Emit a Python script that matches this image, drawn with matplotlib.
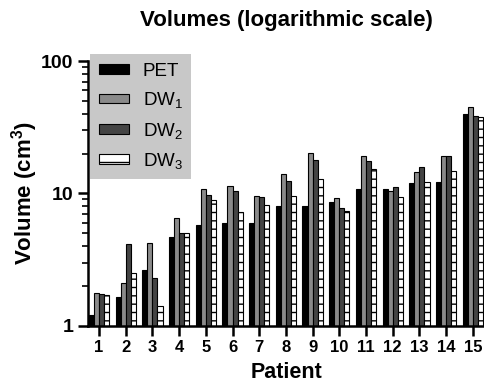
import matplotlib.pyplot as plt
import numpy as np

# data
patients = np.arange(1, 16)
pet = [1.21, 1.66, 2.64, 4.64, 5.75, 5.96, 5.96, 7.96, 8.07, 8.6, 10.8, 10.8, 12.0, 12.1, 39.5]
dw1 = [1.76, 2.09, 4.25, 6.5, 10.7, 11.4, 9.5, 13.9, 20.2, 9.2, 19.1, 10.5, 14.5, 19.0, 44.6]
dw2 = [1.73, 4.16, 2.31, 5.04, 9.8, 10.4, 9.4, 12.3, 17.9, 7.8, 17.5, 11.2, 15.7, 19.0, 38.3]
dw3 = [1.70, 2.52, 1.40, 5.0, 8.96, 7.22, 8.2, 9.55, 12.8, 7.3, 15.4, 9.4, 12.1, 14.8, 37.9]

plt.rcParams["font.family"] = ["Liberation Sans", "DejaVu Sans"]
plt.rcParams["font.weight"] = "bold"
plt.rcParams["mathtext.default"] = "regular"
plt.rcParams["hatch.linewidth"] = 1.0

fig = plt.figure(figsize=(4.84, 3.84), dpi=100)
ax = fig.add_axes([0.182, 0.152, 0.818, 0.689])

w = 0.19
ax.bar(patients - 1.5 * w, pet, w, color="black", edgecolor="black", linewidth=0.8, label="PET")
ax.bar(patients - 0.5 * w, dw1, w, color="#8a8a8a", edgecolor="black", linewidth=0.8, label="DW$_1$")
ax.bar(patients + 0.5 * w, dw2, w, color="#444444", edgecolor="black", linewidth=0.8, label="DW$_2$")
ax.bar(patients + 1.5 * w, dw3, w, color="white", edgecolor="black", linewidth=0.8, hatch="--", label="DW$_3$")

ax.set_yscale("log")
ax.set_ylim(1, 100)
ax.set_xlim(0.59, 15.42)
ax.set_xticks(patients)
ax.set_yticks([1, 10, 100])
ax.set_yticklabels(["1", "10", "100"])

for s in ["top", "right"]:
    ax.spines[s].set_visible(False)
for s in ["left", "bottom"]:
    ax.spines[s].set_linewidth(1.8)

ax.tick_params(axis="both", which="major", length=7, width=1.8)
ax.tick_params(axis="x", labelsize=12)
ax.tick_params(axis="y", labelsize=14)
ax.tick_params(axis="y", which="minor", length=4, width=1.2)

ax.set_title("Volumes (logarithmic scale)", fontsize=16, fontweight="bold", pad=25)
ax.set_xlabel("Patient", fontsize=15.5, fontweight="bold", labelpad=5)
ax.set_ylabel("Volume (cm$^3$)", fontsize=16, fontweight="bold", labelpad=1)

leg = ax.legend(loc="upper left", bbox_to_anchor=(0.005, 1.025), frameon=True, fancybox=False,
                facecolor="#c8c8c8", edgecolor="none", framealpha=1, fontsize=13.5,
                handlelength=1.65, handleheight=0.4, handletextpad=0.7, labelspacing=0.55,
                borderpad=0.45, borderaxespad=0)
for t in leg.get_texts():
    t.set_fontweight("normal")

fig.savefig("out.png", dpi=100)
